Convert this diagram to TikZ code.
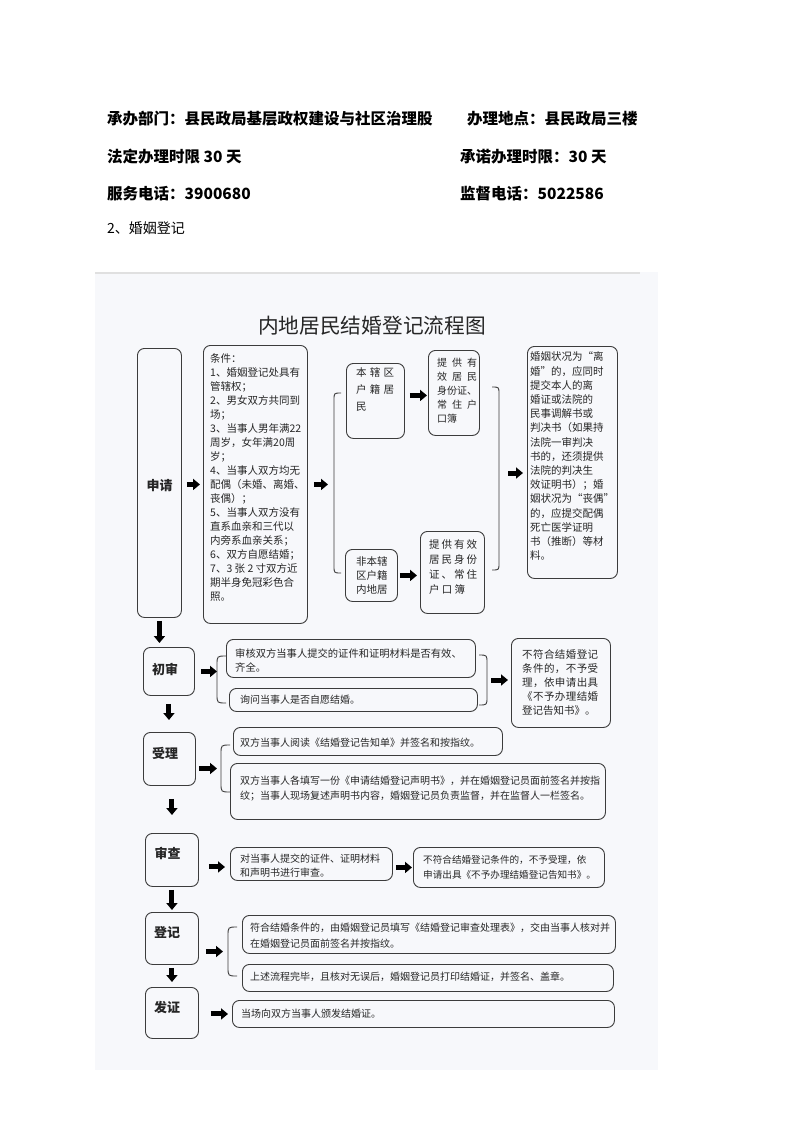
\documentclass[tikz,border=0pt]{standalone}
\usepackage{fontspec}
\newfontfamily\cjk{Noto Sans CJK SC}
\usetikzlibrary{arrows.meta,calc}
\definecolor{ink}{HTML}{262626}
\definecolor{edge}{HTML}{3C3C3C}
\definecolor{scan}{HTML}{F7F8FB}
\def\mysp#1{\ifx#1\relax\else#1\expandafter\myspb\fi}
\def\myspb#1{\ifx#1\relax\else\hfill#1\expandafter\myspb\fi}
\newcommand\dst[2]{\makebox[#1][s]{\mysp#2\relax}}
\newcommand\mylbr[4]{\draw[brk] (#1+#4,#2) .. controls (#1,#2) .. (#1,#2+#4) -- (#1,#3-#4) .. controls (#1,#3) .. (#1+#4,#3);}
\newcommand\myrbr[4]{\draw[brk] (#1-#4,#2) .. controls (#1,#2) .. (#1,#2+#4) -- (#1,#3-#4) .. controls (#1,#3) .. (#1-#4,#3);}
\begin{document}
\begin{tikzpicture}[x=1pt,y=-1pt,
  box/.style={draw=edge, line width=0.9pt, rounded corners=7pt, inner sep=0pt, anchor=north west},
  txt/.style={inner sep=0pt, anchor=north west, align=left, text=ink, font=\cjk\fontsize{10.5}{14}\selectfont},
  rowtxt/.style={inner sep=0pt, anchor=north west, align=left, text=ink, font=\cjk\fontsize{10}{15}\selectfont},
  lbl/.style={inner sep=0pt, text=ink, font=\cjk\bfseries\fontsize{13}{15}\selectfont},
  head/.style={inner sep=0pt, anchor=west, text=black, font=\cjk\bfseries\fontsize{15.5}{18}\selectfont},
  blk/.style={draw=black, line width=5pt, -{Triangle[width=11pt,length=7pt]}},
  brk/.style={draw=edge, line width=0.9pt}]
\useasboundingbox (0,0) rectangle (793,1122);
\fill[white] (0,0) rectangle (793,1122);
\fill[scan] (95,272) rectangle (658,1070);
\draw[black!12, line width=1.5pt] (95,273) -- (640,273);

% header
\node[head] (h1) at (107,119) {承办部门：县民政局基层政权建设与社区治理股};
\node[head] (h2) at (467,119) {办理地点：县民政局三楼};
\node[head] (h3) at (107,157) {法定办理时限 30 天};
\node[head] (h4) at (460,157) {承诺办理时限：30 天};
\node[head] (h5) at (107,194) {服务电话：3900680};
\node[head] (h6) at (460,194) {监督电话：5022586};
\node[inner sep=0pt, anchor=west, font=\cjk\fontsize{14}{16}\selectfont] (h7) at (107,228) {2、婚姻登记};

% title
\node[inner sep=0pt, text=ink, font=\cjk\fontsize{20.7}{24}\selectfont] (title) at (372,326) {内地居民结婚登记流程图};

% ---- 申请 row
\node[box, minimum width=44pt, minimum height=269pt] (sq) at (137,348) {};
\node[lbl] (sqt) at (159.5,486) {申请};
\node[box, minimum width=104pt, minimum height=278pt] (cond) at (203,345) {};
\node[txt] (condt) at (210,353.7) {条件：\\1、婚姻登记处具有\\管辖权；\\2、男女双方共同到\\场；\\3、当事人男年满22\\周岁，女年满20周\\岁；\\4、当事人双方均无\\配偶（未婚、离婚、\\丧偶）；\\5、当事人双方没有\\直系血亲和三代以\\内旁系血亲关系；\\6、双方自愿结婚；\\7、3 张 2 寸双方近\\期半身免冠彩色合\\照。};

\node[box, minimum width=58pt, minimum height=75pt] (b1) at (346,363) {};
\node[txt, font=\cjk\fontsize{10.5}{17}\selectfont] (b1t) at (356,367.7) {\dst{38pt}{本辖区}\\\dst{38pt}{户籍居}\\民};
\node[box, minimum width=51pt, minimum height=85pt] (p1) at (428,350) {};
\node[txt, font=\cjk\fontsize{10}{14}\selectfont] (p1t) at (437,358) {\dst{40pt}{提供有}\\\dst{40pt}{效居民}\\身份证、\\\dst{40pt}{常住户}\\口簿};
\node[box, minimum width=52pt, minimum height=52pt] (b2) at (345,549) {};
\node[txt] (b2t) at (356,556.7) {非本辖\\区户籍\\内地居};
\node[box, minimum width=64pt, minimum height=82pt] (p2) at (420,531) {};
\node[txt, font=\cjk\fontsize{10.5}{15}\selectfont] (p2t) at (429,539.7) {\dst{48pt}{提供有效}\\\dst{48pt}{居民身份}\\\dst{48pt}{证、常住}\\\dst{36pt}{户口簿}};
\node[box, minimum width=90pt, minimum height=232pt] (rb) at (527,346) {};
\node[txt, font=\cjk\fontsize{10.5}{14.2}\selectfont] (rbt) at (530,351.7) {婚姻状况为“离\\婚”的，应同时\\提交本人的离\\婚证或法院的\\民事调解书或\\判决书（如果持\\法院一审判决\\书的，还须提供\\法院的判决生\\效证明书）；婚\\姻状况为“丧偶”\\的，应提交配偶\\死亡医学证明\\书（推断）等材\\料。};

\mylbr{334}{393}{573}{7}
\coordinate (bL) at (334,483);
\myrbr{499}{387}{570}{7}
\coordinate (bR) at (499,478);

\draw[blk, shorten <=5pt, shorten >=3pt] (sq.east |- cond.west) -- (cond.west);
\draw[blk, shorten <=6pt, shorten >=6pt] (cond.east) -- (cond.east -| bL);
\coordinate (a3) at ([yshift=5.5pt]b1.east);
\draw[blk, shorten <=5pt, shorten >=1pt] (a3) -- (a3 -| p1.west);
\draw[blk, shorten <=2pt, shorten >=3pt] (b2.east) -- (b2.east -| p2.west);
\coordinate (a5) at ([yshift=5pt]bR);
\draw[blk, shorten <=9pt, shorten >=4pt] (a5) -- (a5 -| rb.west);

% ---- 初审 row
\node[box, minimum width=51pt, minimum height=48pt] (c1) at (143,647) {};
\node[lbl] (c1t) at (165,669) {初审};
\node[box, minimum width=249pt, minimum height=38pt] (A) at (226,639) {};
\node[rowtxt, font=\cjk\fontsize{10.3}{14}\selectfont] (At) at (235,649) {审核双方当事人提交的证件和证明材料是否有效、\\齐全。};
\node[box, minimum width=248pt, minimum height=23pt] (B) at (229,688) {};
\node[rowtxt] (Bt) at (240,695) {询问当事人是否自愿结婚。};
\mylbr{217}{656}{703}{9}
\coordinate (c1L) at (217,679.5);
\myrbr{487}{655}{705}{8}
\coordinate (c1R) at (487,680);
\node[box, minimum width=99pt, minimum height=89pt] (r1) at (511,638) {};
\node[txt] (r1t) at (522,649.7) {\dst{76pt}{不符合结婚登记}\\\dst{76pt}{条件的，不予受}\\\dst{76pt}{理，依申请出具}\\\dst{76pt}{《不予办理结婚}\\登记告知书》。};
\draw[blk, shorten <=6pt, shorten >=0pt] (c1.east) -- (c1.east -| c1L);
\draw[blk, shorten <=4pt, shorten >=3pt] (c1R) -- (c1R -| r1.west);

% ---- 受理 row
\node[box, minimum width=52pt, minimum height=53pt] (s1) at (143,732) {};
\node[lbl] (s1t) at (165,753) {受理};
\node[box, minimum width=269pt, minimum height=28pt] (C) at (233,727) {};
\node[rowtxt] (Ct) at (240,738) {双方当事人阅读《结婚登记告知单》并签名和按指纹。};
\node[box, minimum width=375pt, minimum height=56pt] (D) at (230,763) {};
\node[rowtxt] (Dt) at (240,776) {双方当事人各填写一份《申请结婚登记声明书》，并在婚姻登记员面前签名并按指\\纹；当事人现场复述声明书内容，婚姻登记员负责监督，并在监督人一栏签名。};
\mylbr{221}{745}{792}{9}
\coordinate (s1L) at (221,768.5);
\draw[blk, shorten <=3pt, shorten >=4pt] (s1L -| s1.east) -- (s1L);

% ---- 审查 row
\node[box, minimum width=53pt, minimum height=53pt] (e1) at (145,833) {};
\node[lbl] (e1t) at (167.5,853) {审查};
\node[box, minimum width=162pt, minimum height=33pt] (E) at (230,847) {};
\node[rowtxt, font=\cjk\fontsize{10}{14}\selectfont] (Et) at (240,854) {对当事人提交的证件、证明材料\\和声明书进行审查。};
\node[box, minimum width=191pt, minimum height=40pt] (F) at (413,847) {};
\node[rowtxt, font=\cjk\fontsize{9.6}{15}\selectfont] (Ft) at (423,855) {不符合结婚登记条件的，不予受理，依\\申请出具《不予办理结婚登记告知书》。};
\coordinate (e1a) at ([yshift=-3pt]E.west);
\draw[blk, shorten <=10pt, shorten >=5pt] (e1a -| e1.east) -- (e1a);
\draw[blk, shorten <=3pt, shorten >=1pt] (F.west -| E.east) -- (F.west);

% ---- 登记 row
\node[box, minimum width=53pt, minimum height=52pt] (g1) at (145,912) {};
\node[lbl] (g1t) at (167,933) {登记};
\node[box, minimum width=373pt, minimum height=38pt] (G) at (242,915) {};
\node[rowtxt, font=\cjk\fontsize{10}{16}\selectfont] (Gt) at (250,923) {符合结婚条件的，由婚姻登记员填写《结婚登记审查处理表》，交由当事人核对并\\在婚姻登记员面前签名并按指纹。};
\node[box, minimum width=371pt, minimum height=27pt] (H) at (242,964) {};
\node[rowtxt] (Ht) at (250,972) {上述流程完毕，且核对无误后，婚姻登记员打印结婚证，并签名、盖章。};
\mylbr{228}{927}{976}{9}
\coordinate (g1L) at (228,951.5);
\draw[blk, shorten <=7pt, shorten >=5pt] (g1L -| g1.east) -- (g1L);

% ---- 发证 row
\node[box, minimum width=53pt, minimum height=51pt] (f1) at (145,987) {};
\node[lbl] (f1t) at (167,1007) {发证};
\node[box, minimum width=382pt, minimum height=27pt] (I) at (232,1000) {};
\node[rowtxt] (It) at (241,1009) {当场向双方当事人颁发结婚证。};
\draw[blk, shorten <=12pt, shorten >=4pt] (I.west -| f1.east) -- (I.west);

% ---- down arrows
\draw[blk, shorten <=3pt, shorten >=4pt] (sq.south) -- (sq.south |- c1.north);
\draw[blk, shorten <=8pt, shorten >=12pt] (c1.south) -- (c1.south |- s1.north);
\draw[blk, shorten <=13pt, shorten >=18pt] (e1.north |- s1.south) -- (e1.north);
\draw[blk, shorten <=3pt, shorten >=2pt] (e1.south) -- (g1.north);
\draw[blk, shorten <=3pt, shorten >=5pt] (g1.south) -- (f1.north);
\end{tikzpicture}
\end{document}
